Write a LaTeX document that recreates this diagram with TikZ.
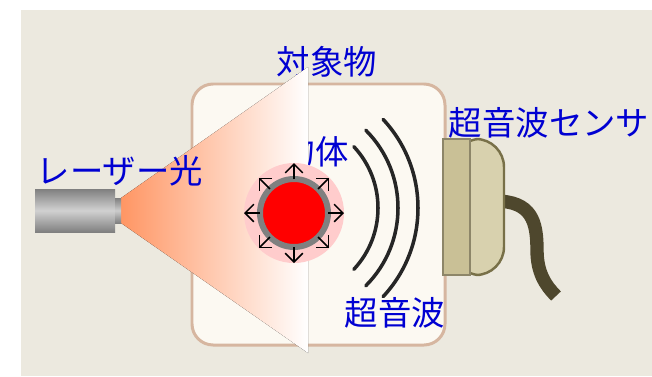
\documentclass[tikz,border=0pt]{standalone}
\usepackage{fontspec}
\newfontfamily\jpfont{Noto Sans CJK JP}
\definecolor{bgbeige}{RGB}{236,233,223}
\definecolor{lblblue}{RGB}{0,0,210}
\definecolor{beamorange}{RGB}{255,150,100}
\definecolor{boxfill}{RGB}{252,249,242}
\definecolor{boxedge}{RGB}{214,182,160}
\definecolor{halopink}{RGB}{255,204,204}
\definecolor{ringgray}{RGB}{128,128,128}
\definecolor{sensorkhaki}{RGB}{201,192,150}
\definecolor{sensordome}{RGB}{216,209,174}
\definecolor{sensoredge}{RGB}{120,112,72}
\definecolor{cableolive}{RGB}{78,71,45}
\usetikzlibrary{arrows.meta,calc}

\begin{document}
\begin{tikzpicture}[x=0.02cm,y=-0.02cm,
  lbl/.style={font=\jpfont\fontsize{19}{21}\selectfont,text=lblblue,inner sep=0pt},
  wave/.style={line width=2pt,black!85,line cap=round},
  ray/.style={line width=0.9pt,-{Straight Barb[length=5pt,width=10pt]}}
]
  \useasboundingbox (0,0) rectangle (652,376);
  \fill[bgbeige] (21,10) rectangle (652,376);

  % target box
  \draw[fill=boxfill,draw=boxedge,line width=1.7pt,rounded corners=12pt]
    (192,84) rectangle (445,345);
  \node[lbl] (body) at (315,152) {物体};
  \node[lbl] (target) at (327,62) {対象物};

  % laser beam and emitter
  \fill[left color=beamorange,right color=white]
    (121,198) -- (308,67) -- (308,353) -- (121,223) -- cycle;
  \fill[top color=black!50,bottom color=black!50,middle color=black!18]
    (35,189) rectangle (115,232);
  \fill[top color=black!50,bottom color=black!50,middle color=black!20]
    (115,198) rectangle (121,223);
  \node[lbl] (laser) at (120,171) {レーザー光};

  % object with its reflection
  \fill[halopink] (294,213) circle[radius=50];
  \node[circle,fill=red,draw=ringgray,line width=3.4pt,inner sep=0pt,
    minimum size=1.36cm] (ball) at (294,213) {};
  \foreach \a in {0,45,...,315}
    \draw[ray] ($(ball.center)+(\a:34)$) -- ($(ball.center)+(\a:50)$);

  % ultrasonic waves
  \coordinate (wc) at (288,208);
  \draw[wave] (wc) ++(-43:90) arc[start angle=-43,end angle=43,radius=90];
  \draw[wave] (wc) ++(-45:110) arc[start angle=-45,end angle=45,radius=110];
  \draw[wave] (wc) ++(-43:130) arc[start angle=-43,end angle=43,radius=130];
  \node[lbl] (wavelbl) at (395,313) {超音波};

  % sensor head and cable
  \coordinate (cablein) at (495,201);
  \coordinate (cableend) at (556,296);
  \draw[line width=7.6pt,cableolive] (cablein)
    .. controls (532,201) and (537,222) .. (537,250)
    .. controls (537,272) and (545,285) .. (cableend);
  \draw[fill=sensordome,draw=sensoredge,line width=1.4pt,rounded corners=16pt]
    (452,139) rectangle (504,275);
  \draw[fill=sensorkhaki,draw=sensorkhaki!70!black,line width=0.8pt]
    (443,139) rectangle (470,275);
  \node[lbl] (sensor) at (549,123) {超音波センサ};
\end{tikzpicture}
\end{document}
